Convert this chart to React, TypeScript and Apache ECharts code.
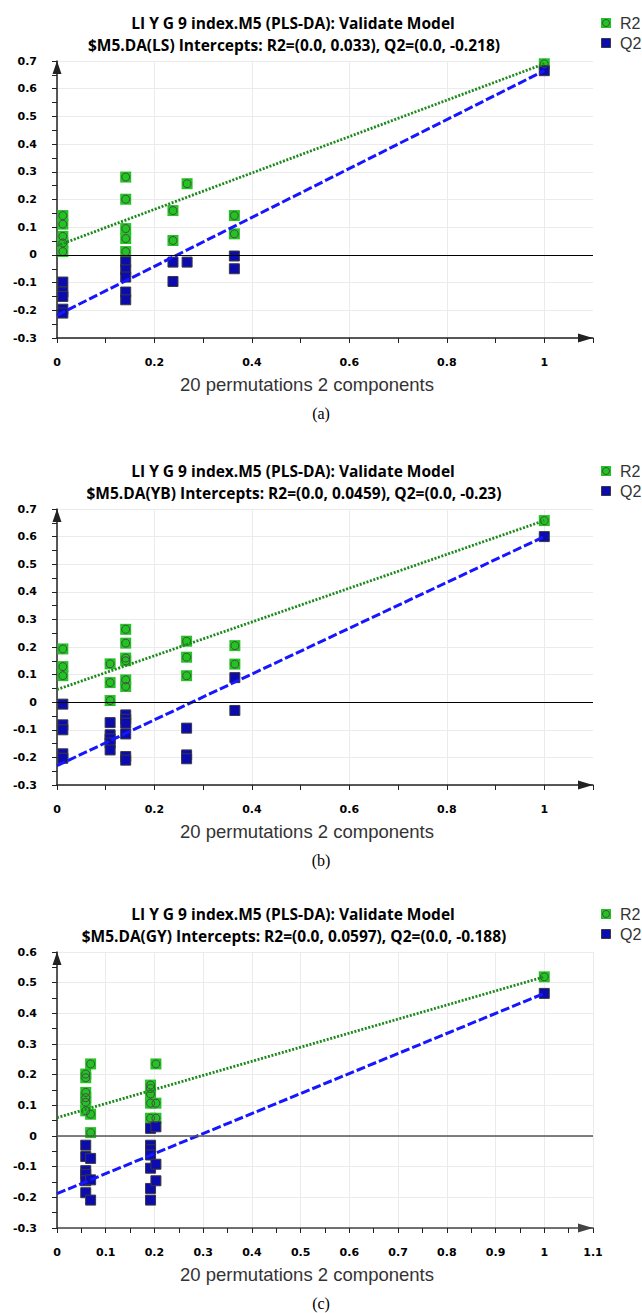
import React, { useEffect, useRef } from "react";
import * as echarts from "echarts";

// ---------- data ----------
const titleLine1 = "LI Y G 9 index.M5 (PLS-DA): Validate Model";
const titleLine2 = [
  "$M5.DA(LS) Intercepts: R2=(0.0, 0.033), Q2=(0.0, -0.218)",
  "$M5.DA(YB) Intercepts: R2=(0.0, 0.0459), Q2=(0.0, -0.23)",
  "$M5.DA(GY) Intercepts: R2=(0.0, 0.0597), Q2=(0.0, -0.188)",
];
const xAxisName = "20 permutations 2 components";
const panelLabels = ["(a)", "(b)", "(c)"];
const legendNames = ["R2", "Q2"];
const yMaxes = [0.7, 0.7, 0.6];
const yMin = -0.3;
const xMax = 1.1;
const xLabelSteps = [0.2, 0.2, 0.1];

const r2LS = [
  [0.012, 0.142], [0.012, 0.111], [0.012, 0.067], [0.012, 0.043], [0.012, 0.012],
  [0.141, 0.281], [0.141, 0.201], [0.141, 0.095], [0.141, 0.059], [0.141, 0.012],
  [0.238, 0.16], [0.238, 0.052], [0.267, 0.257], [0.364, 0.142], [0.364, 0.076],
  [1, 0.69],
];
const q2LS = [
  [0.012, -0.098], [0.012, -0.134], [0.012, -0.15], [0.012, -0.196], [0.012, -0.21],
  [0.141, -0.025], [0.141, -0.054], [0.141, -0.08], [0.141, -0.134], [0.141, -0.162],
  [0.238, -0.026], [0.238, -0.096], [0.267, -0.026], [0.364, -0.004], [0.364, -0.05],
  [1, 0.665],
];
const r2LineLS = [[0, 0.033], [1, 0.69]];
const q2LineLS = [[0, -0.218], [1, 0.665]];

const r2YB = [
  [0.012, 0.193], [0.012, 0.129], [0.012, 0.096],
  [0.109, 0.139], [0.109, 0.071], [0.109, 0.006],
  [0.141, 0.264], [0.141, 0.214], [0.141, 0.16], [0.141, 0.15], [0.141, 0.081], [0.141, 0.057],
  [0.266, 0.221], [0.266, 0.163], [0.266, 0.096],
  [0.365, 0.205], [0.365, 0.138],
  [1, 0.658],
];
const q2YB = [
  [0.012, -0.007], [0.012, -0.082], [0.012, -0.1], [0.012, -0.187], [0.012, -0.203],
  [0.109, -0.074], [0.109, -0.118], [0.109, -0.133], [0.109, -0.148], [0.109, -0.173],
  [0.141, -0.046], [0.141, -0.062], [0.141, -0.076], [0.141, -0.115], [0.141, -0.197], [0.141, -0.21],
  [0.266, -0.094], [0.266, -0.191], [0.266, -0.205],
  [0.365, 0.089], [0.365, -0.03],
  [1, 0.6],
];
const r2LineYB = [[0, 0.0459], [1, 0.658]];
const q2LineYB = [[0, -0.23], [1, 0.6]];

const r2GY = [
  [0.059, 0.202], [0.059, 0.19], [0.059, 0.142], [0.059, 0.125], [0.059, 0.11], [0.059, 0.082],
  [0.069, 0.235], [0.069, 0.071], [0.069, 0.011],
  [0.192, 0.166], [0.192, 0.155], [0.192, 0.137], [0.192, 0.107], [0.192, 0.058],
  [0.203, 0.235], [0.203, 0.107], [0.203, 0.058],
  [1, 0.519],
];
const q2GY = [
  [0.059, -0.03], [0.059, -0.067], [0.059, -0.113], [0.059, -0.125], [0.059, -0.146], [0.059, -0.185],
  [0.069, -0.073], [0.069, -0.143], [0.069, -0.209],
  [0.192, 0.025], [0.192, -0.03], [0.192, -0.045], [0.192, -0.062], [0.192, -0.105], [0.192, -0.171], [0.192, -0.209],
  [0.203, 0.03], [0.203, -0.092], [0.203, -0.146],
  [1, 0.465],
];
const r2LineGY = [[0, 0.0597], [1, 0.519]];
const q2LineGY = [[0, -0.188], [1, 0.465]];

const r2Points = [r2LS, r2YB, r2GY];
const q2Points = [q2LS, q2YB, q2GY];
const r2Lines = [r2LineLS, r2LineYB, r2LineGY];
const q2Lines = [q2LineLS, q2LineYB, q2LineGY];

// ---------- layout / style ----------
const W = 642;
const H = 1313;
const gridTops = [61, 509, 952];
const gridHeights = [277, 276, 276];
const gridLeft = 57;
const gridRight = 49;
const GREEN = "#22c422";
const BLUE = "#0c0cae";
const GREEN_LINE = "#1b8a1b";
const BLUE_LINE = "#1616ff";
const AXIS = "#222";
const GRID = "#ebebeb";
const labelFont = "DejaVu Sans";
const titleFont = "bold 15.5px 'Open Sans'";

function buildOption() {
  const grid: any[] = [];
  const xAxis: any[] = [];
  const yAxis: any[] = [];
  const series: any[] = [];
  const graphic: any[] = [];

  for (let i = 0; i < 3; i++) {
    const top = gridTops[i];
    const bottom = top + gridHeights[i];
    grid.push({ left: gridLeft, right: gridRight, top, height: gridHeights[i], containLabel: false });
    const stepH = Math.round(xLabelSteps[i] * 100);
    const zeroColor = i === 2 ? "#555" : "#000";
    xAxis.push({
      gridIndex: i,
      type: "value",
      min: 0,
      max: xMax,
      interval: 0.1,
      name: xAxisName,
      nameLocation: "middle",
      nameGap: 37,
      nameTextStyle: {
        fontFamily: "Liberation Sans",
        fontSize: 18.5,
        color: "#333",
        padding: [0, 36, 0, 0],
      },
      axisLine: {
        show: true,
        onZero: false,
        symbol: ["none", "triangle"],
        symbolSize: [9, 15],
        symbolOffset: [0, -7.5],
        lineStyle: { color: i === 2 ? "#444" : AXIS, width: 1.5 },
      },
      axisTick: { show: true, inside: false, length: 5, lineStyle: { color: AXIS, width: 1 } },
      minorTick: { show: i === 2, splitNumber: 2, length: 5, lineStyle: { color: AXIS, width: 1 } },
      axisLabel: {
        margin: 19,
        fontFamily: labelFont,
        fontWeight: "bold",
        fontSize: 11,
        color: "#000",
        showMaxLabel: true,
        showMinLabel: true,
        formatter: (v: number) => {
          const k = Math.round(v * 100);
          if (k % stepH !== 0) return "";
          if (i < 2 && k > 100) return "";
          return String(Math.round(v * 10) / 10);
        },
      },
      splitLine: {
        show: true,
        lineStyle: {
          color: i === 2 ? GRID : [GRID, "rgba(0,0,0,0)"],
          width: 1,
        },
      },
    });
    yAxis.push({
      gridIndex: i,
      type: "value",
      min: yMin,
      max: yMaxes[i],
      interval: 0.1,
      axisLine: {
        show: true,
        onZero: false,
        symbol: ["none", "triangle"],
        symbolSize: [9, 13],
        symbolOffset: [0, -6.5],
        lineStyle: { color: AXIS, width: 1.5 },
      },
      axisTick: { show: true, inside: false, length: 5, lineStyle: { color: AXIS, width: 1 } },
      minorTick: { show: true, splitNumber: 2, length: 5, lineStyle: { color: AXIS, width: 1 } },
      axisLabel: {
        margin: 20,
        fontFamily: labelFont,
        fontWeight: "bold",
        fontSize: 11,
        color: "#000",
        formatter: (v: number) => {
          const r = Math.round(v * 10) / 10;
          return r === 0 ? "0" : String(r);
        },
      },
      splitLine: { show: true, lineStyle: { color: GRID, width: 1 } },
    });

    // zero line
    series.push({
      type: "line",
      name: "zero" + i,
      xAxisIndex: i,
      yAxisIndex: i,
      data: [],
      z: 1,
      silent: true,
      markLine: {
        silent: true,
        symbol: "none",
        label: { show: false },
        lineStyle: { color: zeroColor, width: i === 2 ? 1.5 : 1, type: "solid" },
        data: [{ yAxis: 0 }],
      },
    });
    // R2 squares
    series.push({
      type: "scatter",
      name: legendNames[0],
      xAxisIndex: i,
      yAxisIndex: i,
      data: r2Points[i],
      symbol: "rect",
      symbolSize: 11,
      itemStyle: { color: GREEN, opacity: 1 },
      z: 2,
    });
    // R2 inner circles
    series.push({
      type: "scatter",
      name: legendNames[0] + " ring",
      xAxisIndex: i,
      yAxisIndex: i,
      data: r2Points[i],
      symbol: "circle",
      symbolSize: 8,
      itemStyle: { color: "rgba(0,0,0,0)", borderColor: "#4a4a4a", borderWidth: 1, opacity: 1 },
      z: 3,
    });
    // Q2 squares
    series.push({
      type: "scatter",
      name: legendNames[1],
      xAxisIndex: i,
      yAxisIndex: i,
      data: q2Points[i],
      symbol: "rect",
      symbolSize: 10,
      itemStyle: { color: BLUE, borderColor: "#3a3a3a", borderWidth: 1, opacity: 1 },
      z: 2,
    });
    // regression lines
    series.push({
      type: "line",
      name: legendNames[0] + " fit",
      xAxisIndex: i,
      yAxisIndex: i,
      data: r2Lines[i],
      symbol: "none",
      lineStyle: { color: GREEN_LINE, width: 2.8, type: [2, 1.6] },
      z: 4,
    });
    series.push({
      type: "line",
      name: legendNames[1] + " fit",
      xAxisIndex: i,
      yAxisIndex: i,
      data: q2Lines[i],
      symbol: "none",
      lineStyle: { color: BLUE_LINE, width: 3, type: [9, 3] },
      z: 4,
    });

    // titles
    const t1 = top - 38;
    const t2 = top - 16;
    graphic.push({
      type: "text",
      x: 293,
      y: t1,
      style: {
        text: titleLine1,
        font: titleFont,
        fill: "#000",
        textAlign: "center",
        textVerticalAlign: "middle",
      },
    });
    graphic.push({
      type: "text",
      x: 294,
      y: t2,
      style: {
        text: titleLine2[i],
        font: titleFont,
        fill: "#000",
        textAlign: "center",
        textVerticalAlign: "middle",
      },
    });
    // legend
    const l1 = t1;
    const l2 = t2 - 2;
    graphic.push({
      type: "rect",
      shape: { x: 601, y: l1 - 5, width: 10, height: 10 },
      style: { fill: GREEN },
    });
    graphic.push({
      type: "circle",
      shape: { cx: 606, cy: l1, r: 3.5 },
      style: { fill: "none", stroke: "#4a4a4a", lineWidth: 1 },
    });
    graphic.push({
      type: "text",
      x: 620,
      y: l1,
      style: {
        text: legendNames[0],
        font: "16px 'Liberation Sans'",
        fill: "#333",
        textAlign: "left",
        textVerticalAlign: "middle",
      },
    });
    graphic.push({
      type: "rect",
      shape: { x: 601.5, y: l2 - 4.5, width: 9, height: 9 },
      style: { fill: BLUE, stroke: "#3a3a3a", lineWidth: 1 },
    });
    graphic.push({
      type: "text",
      x: 620,
      y: l2,
      style: {
        text: legendNames[1],
        font: "16px 'Liberation Sans'",
        fill: "#333",
        textAlign: "left",
        textVerticalAlign: "middle",
      },
    });
    // panel label
    graphic.push({
      type: "text",
      x: 321,
      y: bottom + 75,
      style: {
        text: panelLabels[i],
        font: "16px 'Liberation Serif'",
        fill: "#000",
        textAlign: "center",
        textVerticalAlign: "middle",
      },
    });
  }

  return {
    animation: false,
    backgroundColor: "#fff",
    grid,
    xAxis,
    yAxis,
    series,
    graphic,
  };
}

export default function App() {
  const ref = useRef<HTMLDivElement>(null);
  useEffect(() => {
    if (!ref.current) return;
    const chart = echarts.init(ref.current, undefined, { renderer: "svg" });
    chart.setOption(buildOption() as any);
    return () => chart.dispose();
  }, []);
  return (
    <div
      ref={ref}
      style={{ position: "absolute", left: 0, top: 0, width: W, height: H, background: "#fff" }}
    />
  );
}
